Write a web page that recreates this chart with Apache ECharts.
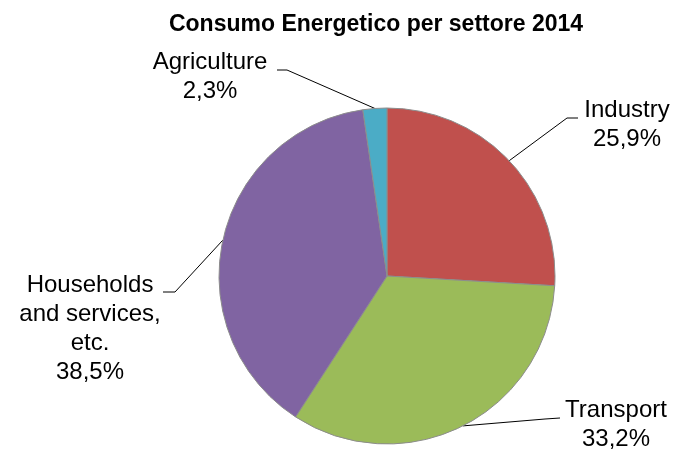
<!DOCTYPE html>
<html>
<head>
<meta charset="utf-8">
<script src="https://cdn.jsdelivr.net/npm/echarts@6/dist/echarts.min.js"></script>
<style>
    html, body { margin: 0; padding: 0; background: #fff; }
    #chart { width: 675px; height: 451px; }
</style>
</head>
<body>
<div id="chart"></div>
<script>
var categories = ['Industry', 'Transport', 'Households\nand services,\netc.', 'Agriculture'];
var values = [25.9, 33.2, 38.5, 2.3];
var colors = ['#C0504D', '#9BBB59', '#8064A2', '#4BACC6'];

// where each label block sits, and the bend/end of its leader line
var labelPos = [[627, 125], [616, 425], [90, 329], [210, 77]];
var lineBend = [
    [[567, 118], [578, 118]],
    [[545, 419], [560, 418]],
    [[175, 292], [163, 292]],
    [[287, 70], [277, 70]]
];

var pieData = categories.map(function (name, i) {
    return { name: name, value: values[i], itemStyle: { color: colors[i] } };
});

var option = {
    animation: false,
    title: {
        text: 'Consumo Energetico per settore 2014',
        left: 371,
        top: 8,
        textAlign: 'center',
        textStyle: {
            fontFamily: 'Liberation Sans',
            fontSize: 23,
            fontWeight: 'bold',
            color: '#000'
        }
    },
    series: [
        {
            type: 'pie',
            center: [387, 276],
            radius: 168,
            startAngle: 90,
            clockwise: true,
            data: pieData,
            itemStyle: {
                borderColor: '#8c8c8c',
                borderWidth: 1
            },
            label: {
                show: true,
                color: '#000',
                fontFamily: 'Liberation Sans',
                fontSize: 24,
                lineHeight: 29,
                align: 'center',
                formatter: function (p) {
                    return p.name + '\n' + p.value.toFixed(1).replace('.', ',') + '%';
                }
            },
            labelLine: {
                show: true,
                length: 20,
                length2: 10,
                lineStyle: { color: '#000', width: 1 }
            },
            labelLayout: function (params) {
                var i = params.dataIndex;
                var pts = params.labelLinePoints;
                if (pts) {
                    pts = [pts[0], lineBend[i][0], lineBend[i][1]];
                }
                return {
                    x: labelPos[i][0],
                    y: labelPos[i][1],
                    align: 'center',
                    verticalAlign: 'middle',
                    labelLinePoints: pts
                };
            }
        }
    ]
};

var chart = echarts.init(document.getElementById('chart'));
chart.setOption(option);
window.addEventListener('resize', function () {
    chart.resize();
});
</script>
</body>
</html>
